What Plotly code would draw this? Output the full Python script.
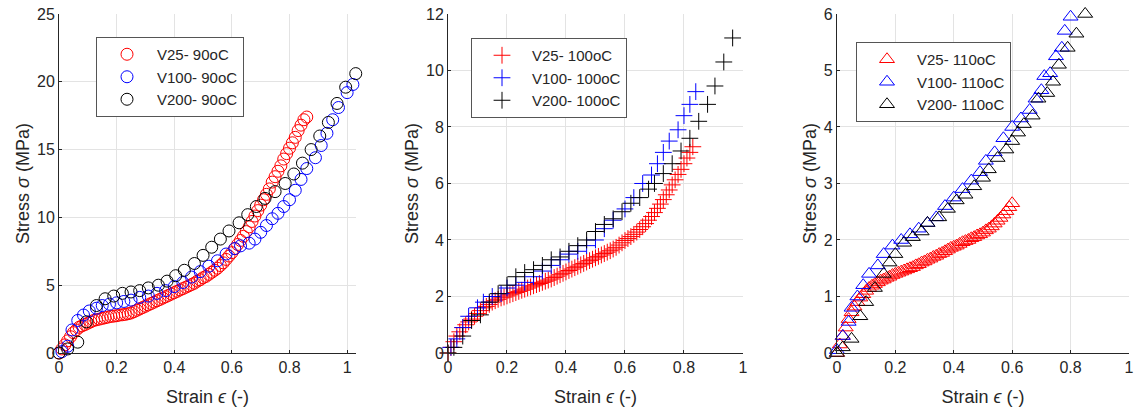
import plotly.graph_objects as go

# ---- 90oC panel ----
v25_90_x = [0.00, 0.01, 0.02, 0.03, 0.04, 0.05, 0.06, 0.07, 0.08, 0.09,
            0.10, 0.11, 0.12, 0.13, 0.14, 0.15, 0.16, 0.17, 0.18, 0.19,
            0.20, 0.21, 0.22, 0.23, 0.24, 0.25, 0.26, 0.27, 0.28, 0.29,
            0.30, 0.31, 0.32, 0.33, 0.34, 0.35, 0.36, 0.37, 0.38, 0.39,
            0.40, 0.41, 0.42, 0.43, 0.44, 0.45, 0.46, 0.47, 0.48, 0.49,
            0.50, 0.51, 0.52, 0.53, 0.54, 0.55, 0.56, 0.57, 0.58, 0.59,
            0.60, 0.61, 0.62, 0.63, 0.64, 0.65, 0.66, 0.67, 0.68, 0.69,
            0.70, 0.71, 0.72, 0.73, 0.74, 0.75, 0.76, 0.77, 0.78, 0.79,
            0.80, 0.81, 0.82, 0.83, 0.84, 0.85, 0.86]
v25_90_y = [0.0, 0.3, 0.6, 0.9, 1.2, 1.5, 1.7, 1.9, 2.0, 2.1,
            2.2, 2.3, 2.4, 2.45, 2.5, 2.55, 2.6, 2.65, 2.7, 2.72,
            2.75, 2.8, 2.82, 2.85, 2.9, 2.95, 3.05, 3.15, 3.25, 3.35,
            3.45, 3.55, 3.65, 3.75, 3.85, 3.95, 4.05, 4.15, 4.25, 4.35,
            4.45, 4.55, 4.65, 4.75, 4.85, 4.95, 5.05, 5.15, 5.3, 5.4,
            5.55, 5.65, 5.8, 5.95, 6.1, 6.25, 6.45, 6.65, 6.9, 7.15,
            7.4, 7.7, 8.0, 8.3, 8.6, 8.95, 9.3, 9.7, 10.1, 10.5,
            10.9, 11.3, 11.7, 12.1, 12.6, 13.0, 13.4, 13.8, 14.3, 14.7,
            15.1, 15.5, 15.9, 16.4, 16.8, 17.2, 17.4]

v100_90_x = [0.01, 0.03, 0.045, 0.065, 0.085, 0.105, 0.13, 0.15, 0.175, 0.20,
             0.225, 0.25, 0.28, 0.31, 0.34, 0.37, 0.40, 0.43, 0.46, 0.49,
             0.52, 0.55, 0.58, 0.61, 0.63, 0.66, 0.68, 0.70, 0.72, 0.74,
             0.76, 0.78, 0.80, 0.82, 0.84, 0.86, 0.89, 0.91, 0.93, 0.95,
             0.97, 1.00, 1.02]
v100_90_y = [0.1, 0.5, 1.7, 2.4, 2.8, 3.1, 3.3, 3.5, 3.6, 3.7,
             3.8, 3.9, 4.1, 4.2, 4.4, 4.6, 4.9, 5.2, 5.6, 6.0,
             6.4, 6.8, 7.3, 7.7, 7.9, 8.1, 8.4, 8.9, 9.4, 9.9,
             10.3, 10.8, 11.3, 12.0, 12.8, 13.6, 14.4, 15.3, 16.2, 17.2,
             18.1, 19.2, 19.8]

v200_90_x = [0.00, 0.03, 0.065, 0.095, 0.13, 0.16, 0.19, 0.22, 0.25, 0.28,
             0.31, 0.345, 0.375, 0.405, 0.435, 0.47, 0.50, 0.53, 0.56, 0.59,
             0.625, 0.655, 0.685, 0.715, 0.75, 0.785, 0.815, 0.845, 0.875, 0.905,
             0.935, 0.965, 0.995, 1.03]
v200_90_y = [0.0, 0.3, 0.8, 2.3, 3.5, 4.0, 4.2, 4.4, 4.5, 4.6,
             4.8, 5.0, 5.3, 5.7, 6.1, 6.6, 7.2, 7.8, 8.4, 9.0,
             9.6, 10.2, 10.8, 11.4, 11.9, 12.5, 13.2, 14.0, 15.0, 16.0,
             17.0, 18.4, 19.6, 20.6]

# ---- 100oC panel ----
v25_100_x = [0.00, 0.01, 0.02, 0.03, 0.04, 0.05, 0.06, 0.07, 0.08, 0.09,
             0.10, 0.11, 0.12, 0.13, 0.14, 0.15, 0.16, 0.17, 0.18, 0.19,
             0.20, 0.21, 0.22, 0.23, 0.24, 0.25, 0.26, 0.27, 0.28, 0.29,
             0.30, 0.31, 0.32, 0.33, 0.34, 0.35, 0.36, 0.37, 0.38, 0.39,
             0.40, 0.41, 0.42, 0.43, 0.44, 0.45, 0.46, 0.47, 0.48, 0.49,
             0.50, 0.51, 0.52, 0.53, 0.54, 0.55, 0.56, 0.57, 0.58, 0.59,
             0.60, 0.61, 0.62, 0.63, 0.64, 0.65, 0.66, 0.67, 0.68, 0.69,
             0.70, 0.71, 0.72, 0.73, 0.74, 0.75, 0.76, 0.77, 0.78, 0.79,
             0.80, 0.81, 0.82, 0.83]
v25_100_y = [0.0, 0.2, 0.4, 0.6, 0.75, 0.9, 1.0, 1.1, 1.2, 1.3,
             1.4, 1.5, 1.6, 1.65, 1.72, 1.8, 1.85, 1.9, 1.95, 1.98,
             2.02, 2.06, 2.1, 2.14, 2.18, 2.22, 2.26, 2.3, 2.34, 2.38,
             2.42, 2.46, 2.5, 2.54, 2.58, 2.62, 2.67, 2.72, 2.77, 2.82,
             2.87, 2.92, 2.97, 3.02, 3.07, 3.12, 3.17, 3.22, 3.27, 3.32,
             3.37, 3.42, 3.47, 3.52, 3.57, 3.62, 3.68, 3.74, 3.82, 3.9,
             3.98, 4.05, 4.12, 4.2, 4.28, 4.37, 4.47, 4.58, 4.7, 4.83,
             4.97, 5.12, 5.27, 5.43, 5.6, 5.77, 5.95, 6.13, 6.32, 6.5,
             6.7, 6.9, 7.1, 7.3]

v100_100_x = [0.01, 0.03, 0.05, 0.07, 0.10, 0.12, 0.15, 0.18, 0.20, 0.23,
              0.26, 0.29, 0.32, 0.35, 0.38, 0.41, 0.44, 0.47, 0.50, 0.53,
              0.56, 0.60, 0.63, 0.66, 0.69, 0.71, 0.73, 0.75, 0.78, 0.80,
              0.82, 0.84]
v100_100_y = [0.2, 0.5, 0.9, 1.3, 1.6, 1.8, 2.0, 2.1, 2.3, 2.4,
              2.5, 2.7, 2.9, 3.1, 3.3, 3.5, 3.6, 3.8, 4.0, 4.4,
              4.7, 5.1, 5.5, 6.0, 6.3, 6.7, 7.1, 7.5, 7.9, 8.4,
              8.8, 9.25]

v200_100_x = [0.00, 0.02, 0.05, 0.08, 0.11, 0.14, 0.17, 0.20, 0.23, 0.26,
              0.29, 0.32, 0.35, 0.38, 0.41, 0.44, 0.47, 0.50, 0.53, 0.56,
              0.59, 0.62, 0.65, 0.68, 0.70, 0.73, 0.76, 0.79, 0.82, 0.85,
              0.88, 0.905, 0.935, 0.965]
v200_100_y = [0.0, 0.2, 0.6, 1.15, 1.35, 1.8, 2.1, 2.4, 2.7, 2.85,
              2.95, 3.1, 3.3, 3.4, 3.6, 3.8, 4.0, 4.3, 4.55, 4.75,
              5.0, 5.3, 5.5, 5.8, 6.0, 6.35, 6.7, 7.15, 7.6, 8.2,
              8.8, 9.45, 10.3, 11.15]

# ---- 110oC panel ----
v25_110_x = [0.00, 0.01, 0.02, 0.03, 0.04, 0.05, 0.06, 0.07, 0.08, 0.09,
             0.10, 0.11, 0.12, 0.13, 0.14, 0.15, 0.16, 0.17, 0.18, 0.19,
             0.20, 0.21, 0.22, 0.23, 0.24, 0.25, 0.26, 0.27, 0.28, 0.29,
             0.30, 0.31, 0.32, 0.33, 0.34, 0.35, 0.36, 0.37, 0.38, 0.39,
             0.40, 0.41, 0.42, 0.43, 0.44, 0.45, 0.46, 0.47, 0.48, 0.49,
             0.50, 0.51, 0.52, 0.53, 0.54, 0.55, 0.56, 0.57, 0.58, 0.59,
             0.60]
v25_110_y = [0.0, 0.15, 0.3, 0.45, 0.6, 0.72, 0.82, 0.9, 0.98, 1.04,
             1.1, 1.15, 1.19, 1.22, 1.25, 1.28, 1.3, 1.33, 1.35, 1.38,
             1.4, 1.42, 1.44, 1.46, 1.48, 1.5, 1.52, 1.55, 1.57, 1.6,
             1.62, 1.65, 1.67, 1.7, 1.72, 1.75, 1.77, 1.8, 1.83, 1.86,
             1.88, 1.9, 1.93, 1.96, 1.98, 2.0, 2.03, 2.05, 2.08, 2.1,
             2.13, 2.17, 2.2, 2.24, 2.29, 2.34, 2.39, 2.45, 2.51, 2.58,
             2.65]

v100_110_x = [0.00, 0.02, 0.04, 0.05, 0.07, 0.09, 0.11, 0.14, 0.16, 0.19,
              0.22, 0.25, 0.28, 0.31, 0.34, 0.37, 0.40, 0.43, 0.46, 0.49,
              0.51, 0.54, 0.57, 0.60, 0.63, 0.66, 0.68, 0.70, 0.71, 0.73,
              0.75, 0.77, 0.78, 0.80]
v100_110_y = [0.05, 0.3, 0.55, 0.8, 1.0, 1.2, 1.4, 1.55, 1.75, 1.9,
              2.0, 2.1, 2.2, 2.3, 2.4, 2.6, 2.75, 2.9, 3.05, 3.2,
              3.4, 3.55, 3.8, 4.0, 4.15, 4.3, 4.5, 4.65, 4.9, 4.95,
              5.25, 5.4, 5.7, 5.95]

v200_110_x = [0.00, 0.02, 0.05, 0.08, 0.10, 0.13, 0.16, 0.18, 0.20, 0.23,
              0.26, 0.29, 0.31, 0.35, 0.38, 0.41, 0.44, 0.47, 0.50, 0.52,
              0.55, 0.58, 0.60, 0.62, 0.64, 0.67, 0.69, 0.72, 0.74, 0.76,
              0.79, 0.82, 0.85]
v200_110_y = [0.0, 0.1, 0.25, 0.65, 0.9, 1.15, 1.4, 1.6, 1.75, 1.95,
              2.05, 2.15, 2.3, 2.4, 2.55, 2.7, 2.8, 2.95, 3.1, 3.25,
              3.45, 3.6, 3.75, 3.9, 4.05, 4.2, 4.5, 4.6, 4.8, 5.1,
              5.4, 5.65, 6.0]

FONT = "Liberation Sans, Arial, sans-serif"
TXT = "#262626"

fig = go.Figure()

panels = [
    ("", "legend", "circle-open", 12,
     [("V25- 90oC", "red", v25_90_x, v25_90_y),
      ("V100- 90oC", "blue", v100_90_x, v100_90_y),
      ("V200- 90oC", "black", v200_90_x, v200_90_y)]),
    ("2", "legend2", "cross-thin-open", 12,
     [("V25- 100oC", "red", v25_100_x, v25_100_y),
      ("V100- 100oC", "blue", v100_100_x, v100_100_y),
      ("V200- 100oC", "black", v200_100_x, v200_100_y)]),
    ("3", "legend3", "triangle-up-open", 13,
     [("V25- 110oC", "red", v25_110_x, v25_110_y),
      ("V100- 110oC", "blue", v100_110_x, v100_110_y),
      ("V200- 110oC", "black", v200_110_x, v200_110_y)]),
]

for ax, leg, sym, size, series in panels:
    for name, col, xs, ys in series:
        fig.add_trace(go.Scatter(
            x=xs, y=ys, mode="markers", name=name, legend=leg,
            xaxis="x" + ax, yaxis="y" + ax, cliponaxis=False,
            marker=dict(symbol=sym, size=size, color=col,
                        line=dict(width=1, color=col))))

ydom = [0.139, 0.966]
xdoms = [[0.052, 0.3137], [0.3947, 0.6546], [0.7374, 0.9947]]
xranges = [[0, 1.031], [0, 1], [0, 1]]
yranges = [[0, 25], [0, 12], [0, 6]]
ydticks = [5, 2, 1]

axis_common = dict(showgrid=True, gridcolor="#e3e3e3", gridwidth=1,
                   showline=True, linecolor=TXT, linewidth=1,
                   zeroline=False, ticks="inside", ticklen=3,
                   tickcolor=TXT, automargin=False,
                   tickfont=dict(family=FONT, size=16, color=TXT))

layout = dict(
    width=1135, height=410,
    margin=dict(l=0, r=0, t=0, b=0),
    paper_bgcolor="white", plot_bgcolor="white",
    font=dict(family=FONT, size=15, color=TXT),
)

for i in range(3):
    sfx = "" if i == 0 else str(i + 1)
    layout["xaxis" + sfx] = dict(
        axis_common, domain=xdoms[i], range=xranges[i], dtick=0.2,
        anchor="y" + sfx,
        title=dict(text="Strain <i>ϵ</i> (-)",
                   font=dict(family=FONT, size=18, color=TXT)))
    layout["yaxis" + sfx] = dict(
        axis_common, domain=ydom, range=yranges[i], dtick=ydticks[i],
        anchor="x" + sfx,
        title=dict(text="Stress <i>σ</i> (MPa)", standoff=2,
                   font=dict(family=FONT, size=18, color=TXT)))

legend_pos = [(96, 37), (471, 38), (856, 42)]
for i, (lx, ly) in enumerate(legend_pos):
    key = "legend" if i == 0 else "legend" + str(i + 1)
    layout[key] = dict(
        x=lx / 1135, y=1 - ly / 410, xanchor="left", yanchor="top",
        bgcolor="white", bordercolor="#555555", borderwidth=1,
        itemwidth=50,
        font=dict(family=FONT, size=15, color=TXT),
        tracegroupgap=0)

fig.update_layout(**layout)

# page has a default 8px body margin; drop it so the figure sits at 0,0
fig.write_html("out.html", config={"displayModeBar": False},
               post_script="document.body.style.margin='0';")
